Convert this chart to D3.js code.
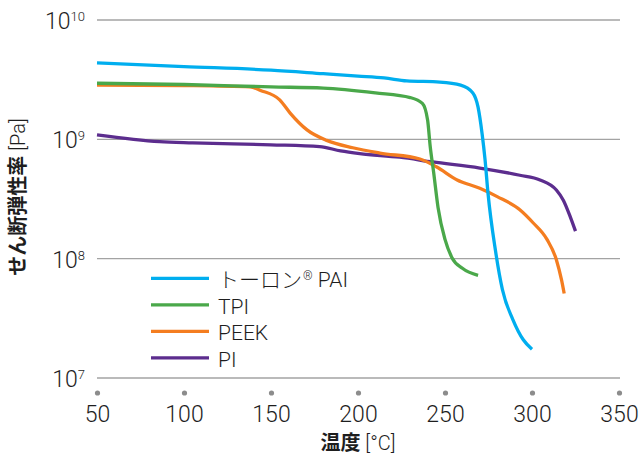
<!DOCTYPE html>
<html>
<head>
<meta charset="utf-8">
<script src="https://cdn.jsdelivr.net/npm/d3@7"></script>
<style>
  body { margin: 0; background: #fff; }
  svg { display: block; }
  .num { font-family: Roboto, "Liberation Sans", sans-serif; font-weight: 300; fill: #1e1e1e; }
  .jp { font-family: "Noto Sans CJK JP", sans-serif; fill: #1e1e1e; }
</style>
</head>
<body>
<svg id="chart" width="641" height="456"></svg>
<script>
// values: temperature [°C], shear modulus [Pa]

const paiT = [50, 100, 150, 180, 200, 215, 228, 247, 259, 266, 269, 271.3, 273, 274.7, 279, 283, 289, 295, 300]
const paiG = [4.37e9, 4.07e9, 3.8e9, 3.55e9, 3.39e9, 3.27e9, 3.09e9, 3.02e9, 2.85e9, 2.45e9, 1.86e9, 1.12e9, 6.8e8, 3.55e8, 1.17e8, 5.5e7, 3.09e7, 2.09e7, 1.74e7]

const tpiT = [50, 100, 150, 180, 210, 230, 237, 240, 241.5, 243.5, 246, 250, 254, 260, 269]
const tpiG = [2.95e9, 2.88e9, 2.75e9, 2.69e9, 2.45e9, 2.24e9, 2.0e9, 1.45e9, 8.7e8, 5.25e8, 2.69e8, 1.45e8, 1.02e8, 8.3e7, 7.24e7]

const peekT = [50, 100, 138, 144, 155, 161, 170.7, 182, 197, 212.6, 235.6, 245, 257, 270, 280, 293, 300.6, 308.6, 314, 317, 318.5]
const peekG = [2.85e9, 2.82e9, 2.75e9, 2.57e9, 2.14e9, 1.66e9, 1.2e9, 9.8e8, 8.5e8, 7.67e8, 6.84e8, 5.89e8, 4.57e8, 3.89e8, 3.31e8, 2.57e8, 2.0e8, 1.45e8, 9.8e7, 6.6e7, 5.1e7]

const piT = [50, 86, 105, 150, 178, 190, 201, 224, 243, 270, 293, 304.6, 314, 318, 322, 325]
const piG = [1.09e9, 9.55e8, 9.33e8, 9.0e8, 8.7e8, 8.0e8, 7.59e8, 7.08e8, 6.46e8, 5.75e8, 5.0e8, 4.57e8, 3.76e8, 3.09e8, 2.24e8, 1.70e8]

const seriesNames = ['トーロン', 'TPI', 'PEEK', 'PI']
const seriesColors = ['#00aeef', '#4aa84a', '#f47d20', '#5c2d8e']

const xTicks = [50, 100, 150, 200, 250, 300, 350]
const yTicks = [1e7, 1e8, 1e9, 1e10]
const yExponents = ['7', '8', '9', '10']

const series = [
  { name: seriesNames[0], color: seriesColors[0], t: paiT, g: paiG },
  { name: seriesNames[1], color: seriesColors[1], t: tpiT, g: tpiG },
  { name: seriesNames[2], color: seriesColors[2], t: peekT, g: peekG },
  { name: seriesNames[3], color: seriesColors[3], t: piT, g: piG }
]

const svg = d3.select('#chart')

const x = d3.scaleLinear().domain([50, 350]).range([97, 619])
const y = d3.scaleLog().domain([1e7, 1e10]).range([378, 20])

// horizontal grid lines at each decade
svg.append('g')
  .selectAll('line')
  .data(yTicks)
  .join('line')
    .attr('x1', x(50)).attr('x2', x(350) + 1)
    .attr('y1', d => y(d)).attr('y2', d => y(d))
    .attr('stroke', '#a3a3a3')
    .attr('stroke-width', 1.3)

// y labels 10^n
const ylab = svg.append('g').selectAll('text')
  .data(yTicks)
  .join('text')
    .attr('class', 'num')
    .attr('x', 85)
    .attr('y', d => y(d) + 9)
    .attr('text-anchor', 'end')
    .attr('font-size', 23)
ylab.append('tspan').text('10')
ylab.append('tspan')
  .attr('font-size', 13)
  .attr('dy', -8)
  .text((d, i) => yExponents[i])

// x axis: dots instead of tick marks
const xAxis = svg.append('g')
  .attr('transform', 'translate(0,393)')
  .call(d3.axisBottom(x).tickValues(xTicks).tickSize(0).tickPadding(12.5))
xAxis.select('.domain').remove()
xAxis.selectAll('.tick text')
  .attr('class', 'num')
  .attr('font-size', 23)
  .attr('fill', null)
xAxis.selectAll('.tick').append('circle')
  .attr('r', 2.6)
  .attr('fill', '#8c8c8c')

// curves, drawn bottom to top: PI, PEEK, TPI, PAI
const line = d3.line()
  .x(d => x(d[0]))
  .y(d => y(d[1]))
  .curve(d3.curveMonotoneX)

svg.append('g')
  .selectAll('path')
  .data(series.slice().reverse())
  .join('path')
    .attr('d', s => line(d3.zip(s.t, s.g)))
    .attr('fill', 'none')
    .attr('stroke', s => s.color)
    .attr('stroke-width', 3.3)
    .attr('stroke-linejoin', 'round')

// legend
const legend = svg.append('g')
  .selectAll('g')
  .data(series)
  .join('g')
    .attr('transform', (s, i) => 'translate(0,' + (278.3 + i * 26.5) + ')')
legend.append('line')
  .attr('x1', 151).attr('x2', 209)
  .attr('stroke', s => s.color)
  .attr('stroke-width', 3.3)
const ltext = legend.append('text')
  .attr('x', 218)
  .attr('y', 9)
  .attr('font-size', 21)
ltext.filter((s, i) => i === 0).each(function(s) {
  const t = d3.select(this)
  t.append('tspan').attr('class', 'jp').attr('font-weight', 300).text(s.name)
  t.append('tspan').attr('class', 'num').attr('font-size', 12).attr('dy', -7).attr('dx', 1).text('®')
  t.append('tspan').attr('class', 'num').attr('dy', 7).text(' PAI')
})
ltext.filter((s, i) => i > 0)
  .attr('class', 'num')
  .text(s => s.name)

// axis titles
const xt = svg.append('text')
  .attr('x', 358)
  .attr('y', 450)
  .attr('text-anchor', 'middle')
  .attr('font-size', 20)
xt.append('tspan').attr('class', 'jp').attr('font-weight', 700).text('温度')
xt.append('tspan').attr('class', 'num').text(' [°C]')

const yt = svg.append('text')
  .attr('transform', 'translate(18,197) rotate(-90)')
  .attr('text-anchor', 'middle')
  .attr('dy', '0.36em')
  .attr('font-size', 20)
yt.append('tspan').attr('class', 'jp').attr('font-weight', 700).text('せん断弾性率')
yt.append('tspan').attr('class', 'num').text(' [Pa]')
</script>
</body>
</html>
